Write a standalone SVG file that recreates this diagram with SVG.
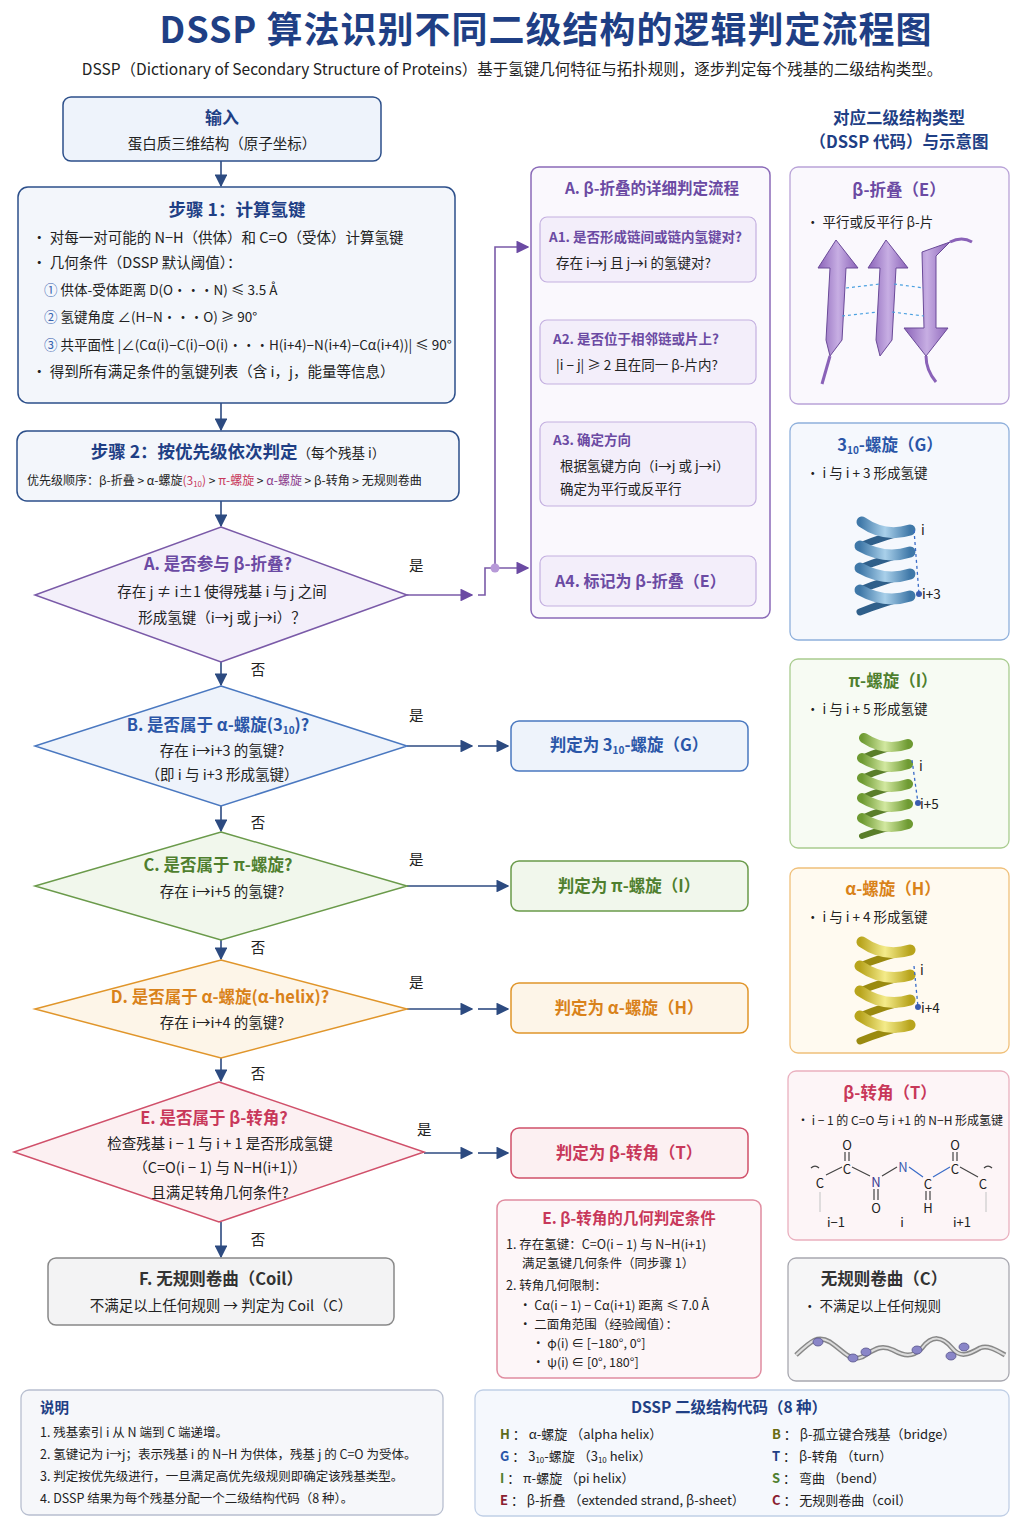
<svg xmlns="http://www.w3.org/2000/svg" width="1024" height="1536" viewBox="0 0 1024 1536">
<defs>
<style>
text{font-family:"Noto Sans CJK SC","Noto Sans",sans-serif;fill:#222;}
.t{font-size:14.5px;}
.s{font-size:13.5px;}
.b{font-weight:bold;}
.c{text-anchor:middle;}
.blue{fill:#1f3f85;}
.pur{fill:#6b4aa3;}
.grn{fill:#4f7f2e;}
.org{fill:#d9821a;}
.pnk{fill:#c8385a;}
.gry{fill:#333;}
.edge{stroke:#2c4a80;stroke-width:1.6;fill:none;}
.pedge{stroke:#7a5aa8;stroke-width:1.6;fill:none;}
</style>
<marker id="ar" viewBox="0 0 10 10" refX="9" refY="5" markerWidth="8" markerHeight="8" orient="auto"><path d="M0,0 L10,5 L0,10 z" fill="#2c4a80"/></marker>
<marker id="arp" viewBox="0 0 10 10" refX="9" refY="5" markerWidth="8" markerHeight="8" orient="auto"><path d="M0,0 L10,5 L0,10 z" fill="#6b4aa3"/></marker>
<linearGradient id="hb" x1="0" x2="1"><stop offset="0" stop-color="#3f78a8"/><stop offset="0.5" stop-color="#a9d0ea"/><stop offset="1" stop-color="#3f78a8"/></linearGradient>
<linearGradient id="hg" x1="0" x2="1"><stop offset="0" stop-color="#6e9a32"/><stop offset="0.5" stop-color="#d2e8a0"/><stop offset="1" stop-color="#6e9a32"/></linearGradient>
<linearGradient id="hy" x1="0" x2="1"><stop offset="0" stop-color="#b8a41c"/><stop offset="0.5" stop-color="#f4eb8a"/><stop offset="1" stop-color="#b8a41c"/></linearGradient>
<linearGradient id="bp" x1="0" x2="1"><stop offset="0" stop-color="#8a62b8"/><stop offset="0.5" stop-color="#c7aee3"/><stop offset="1" stop-color="#8a62b8"/></linearGradient>
</defs>
<rect width="1024" height="1536" fill="#ffffff"/>

<text x="546" y="43" class="c b blue" font-size="36" letter-spacing="1">DSSP 算法识别不同二级结构的逻辑判定流程图</text>
<text x="512" y="75" class="c" font-size="15.5">DSSP（Dictionary of Secondary Structure of Proteins）基于氢键几何特征与拓扑规则，逐步判定每个残基的二级结构类型。</text>

<g id="connectors">
<line x1="221" y1="161" x2="221" y2="186" class="edge" marker-end="url(#ar)"/>
<line x1="221" y1="403" x2="221" y2="430" class="edge" marker-end="url(#ar)"/>
<line x1="221" y1="501" x2="221" y2="526" class="edge" marker-end="url(#ar)"/>
<line x1="221" y1="662" x2="221" y2="685" class="edge" marker-end="url(#ar)"/>
<line x1="221" y1="806" x2="221" y2="831" class="edge" marker-end="url(#ar)"/>
<line x1="221" y1="940" x2="221" y2="959" class="edge" marker-end="url(#ar)"/>
<line x1="221" y1="1058" x2="221" y2="1081" class="edge" marker-end="url(#ar)"/>
<line x1="221" y1="1222" x2="221" y2="1257" class="edge" marker-end="url(#ar)"/>
<line x1="407" y1="595" x2="472" y2="595" class="pedge" marker-end="url(#arp)"/>
<path d="M478,595 L485,595 L485,568 L495,568" class="pedge"/>
<line x1="495" y1="568" x2="528" y2="568" class="pedge" marker-end="url(#arp)"/>
<path d="M495,568 L495,247 L528,247" class="pedge" marker-end="url(#arp)"/>
<circle cx="495" cy="568" r="4.5" fill="#b79ad8"/>
<line x1="407" y1="746" x2="472" y2="746" class="edge" marker-end="url(#ar)"/>
<line x1="478" y1="746" x2="508" y2="746" class="edge" marker-end="url(#ar)"/>
<line x1="407" y1="886" x2="508" y2="886" class="edge" marker-end="url(#ar)"/>
<line x1="407" y1="1009" x2="472" y2="1009" class="edge" marker-end="url(#ar)"/>
<line x1="478" y1="1009" x2="508" y2="1009" class="edge" marker-end="url(#ar)"/>
<line x1="424" y1="1153" x2="472" y2="1153" class="edge" marker-end="url(#ar)"/>
<line x1="478" y1="1153" x2="508" y2="1153" class="edge" marker-end="url(#ar)"/>
<line x1="647" y1="282" x2="647" y2="316" class="pedge" marker-end="url(#arp)"/>
<line x1="647" y1="384" x2="647" y2="418" class="pedge" marker-end="url(#arp)"/>
<line x1="647" y1="506" x2="647" y2="552" class="pedge" marker-end="url(#arp)"/>
<text x="409" y="571" class="t">是</text>
<text x="409" y="721" class="t">是</text>
<text x="409" y="865" class="t">是</text>
<text x="409" y="988" class="t">是</text>
<text x="417" y="1135" class="t">是</text>
<text x="258" y="675" class="t c">否</text>
<text x="258" y="828" class="t c">否</text>
<text x="258" y="953" class="t c">否</text>
<text x="258" y="1079" class="t c">否</text>
<text x="258" y="1245" class="t c">否</text>
<text x="665" y="301" class="s c">否</text>
<text x="665" y="403" class="s c">否</text>
</g>

<g id="input">
<rect x="63" y="97" width="318" height="64" rx="8" fill="#eef3fb" stroke="#2c4f8a" stroke-width="1.5"/>
<text x="222" y="124" class="c b blue" font-size="17">输入</text>
<text x="222" y="149" class="c t">蛋白质三维结构（原子坐标）</text>
</g>

<g id="step1">
<rect x="18" y="187" width="437" height="216" rx="10" fill="#f3f6fb" stroke="#2c4f8a" stroke-width="1.5"/>
<text x="237" y="216" class="c b blue" font-size="17.5">步骤 1：计算氢键</text>
<text x="32" y="243" class="t">•  对每一对可能的 N−H（供体）和 C=O（受体）计算氢键</text>
<text x="32" y="268" class="t">•  几何条件（DSSP 默认阈值）：</text>
<text x="44" y="295" class="s"><tspan fill="#3a64b0">①</tspan> 供体-受体距离 D(O···N) ≤ 3.5 Å</text>
<text x="44" y="322" class="s"><tspan fill="#3a64b0">②</tspan> 氢键角度 ∠(H−N···O) ≥ 90°</text>
<text x="44" y="350" class="s"><tspan fill="#3a64b0">③</tspan> 共平面性 |∠(Cα(i)−C(i)−O(i)···H(i+4)−N(i+4)−Cα(i+4))| ≤ 90°</text>
<text x="32" y="377" class="t">•  得到所有满足条件的氢键列表（含 i，j，能量等信息）</text>
</g>

<g id="step2">
<rect x="17" y="431" width="442" height="70" rx="10" fill="#f3f6fb" stroke="#2c4f8a" stroke-width="1.5"/>
<text x="238" y="458" class="c b blue" font-size="17.5">步骤 2：按优先级依次判定<tspan font-size="13.5" font-weight="normal" fill="#222">（每个残基 i）</tspan></text>
<text x="27" y="485" font-size="12">优先级顺序：β-折叠 &gt; α-螺旋<tspan fill="#c8385a">(3<tspan font-size="8" dy="2">10</tspan><tspan dy="-2">)</tspan></tspan> &gt; <tspan fill="#c8385a">π-螺旋</tspan> &gt; <tspan fill="#8a3a8a">α-螺旋</tspan> &gt; β-转角 &gt; 无规则卷曲</text>
</g>

<g id="decA">
<polygon points="221,527 407,595 221,662 35,595" fill="#f3effa" stroke="#7a5aa8" stroke-width="1.5"/>
<text x="218" y="570" class="c b pur" font-size="16.5">A. 是否参与 β-折叠?</text>
<text x="222" y="597" class="c t">存在 j ≠ i±1 使得残基 i 与 j 之间</text>
<text x="222" y="623" class="c t">形成氢键（i→j 或 j→i）？</text>
</g>

<g id="decB">
<polygon points="221,686 407,746 221,806 35,746" fill="#eef3fb" stroke="#4a78c0" stroke-width="1.5"/>
<text x="218" y="731" class="c b" font-size="16.5" style="fill:#2a56a8">B. 是否属于 α-螺旋(3<tspan font-size="10" dy="3">10</tspan><tspan dy="-3">)?</tspan></text>
<text x="222" y="756" class="c t">存在 i→i+3 的氢键?</text>
<text x="222" y="780" class="c t">（即 i 与 i+3 形成氢键）</text>
</g>

<g id="decC">
<polygon points="221,832 407,886 221,940 35,886" fill="#f1f7ec" stroke="#6a9a4a" stroke-width="1.5"/>
<text x="218" y="871" class="c b grn" font-size="16.5">C. 是否属于 π-螺旋?</text>
<text x="222" y="897" class="c t">存在 i→i+5 的氢键?</text>
</g>

<g id="decD">
<polygon points="221,960 407,1009 221,1058 35,1009" fill="#fdf5e8" stroke="#e0952a" stroke-width="1.5"/>
<text x="220" y="1003" class="c b org" font-size="16.5">D. 是否属于 α-螺旋(α-helix)?</text>
<text x="222" y="1028" class="c t">存在 i→i+4 的氢键?</text>
</g>

<g id="decE">
<polygon points="219,1082 424,1152 219,1222 14,1152" fill="#fcf0f2" stroke="#d0506a" stroke-width="1.5"/>
<text x="214" y="1124" class="c b pnk" font-size="16.5">E. 是否属于 β-转角?</text>
<text x="220" y="1149" class="c t">检查残基 i − 1 与 i + 1 是否形成氢键</text>
<text x="220" y="1173" class="c t">（C=O(i − 1) 与 N−H(i+1)）</text>
<text x="220" y="1198" class="c t">且满足转角几何条件?</text>
</g>

<g id="coilF">
<rect x="48" y="1258" width="346" height="67" rx="8" fill="#f3f3f4" stroke="#888" stroke-width="1.5"/>
<text x="221" y="1285" class="c b gry" font-size="16.5">F. 无规则卷曲（Coil）</text>
<text x="221" y="1311" class="c t">不满足以上任何规则 → 判定为 Coil（C）</text>
</g>

<g id="resG">
<rect x="511" y="721" width="237" height="50" rx="8" fill="#eef3fb" stroke="#4a78c0" stroke-width="1.5"/>
<text x="629" y="751" class="c b" font-size="16.5" style="fill:#2a56a8">判定为 3<tspan font-size="10" dy="3">10</tspan><tspan dy="-3">-螺旋（G）</tspan></text>
</g>
<g id="resI">
<rect x="511" y="861" width="237" height="50" rx="8" fill="#f1f7ec" stroke="#6a9a4a" stroke-width="1.5"/>
<text x="629" y="892" class="c b grn" font-size="16.5">判定为 π-螺旋（I）</text>
</g>
<g id="resH">
<rect x="511" y="983" width="237" height="50" rx="8" fill="#fdf5e8" stroke="#e0952a" stroke-width="1.5"/>
<text x="629" y="1014" class="c b org" font-size="16.5">判定为 α-螺旋（H）</text>
</g>
<g id="resT">
<rect x="511" y="1128" width="237" height="50" rx="8" fill="#fcf0f2" stroke="#d0506a" stroke-width="1.5"/>
<text x="629" y="1159" class="c b pnk" font-size="16.5">判定为 β-转角（T）</text>
</g>

<g id="panelA">
<rect x="531" y="167" width="239" height="451" rx="8" fill="#faf8fd" stroke="#8a6ab8" stroke-width="1.5"/>
<text x="652" y="194" class="c b pur" font-size="15.5">A. β-折叠的详细判定流程</text>
<rect x="540" y="217" width="216" height="65" rx="7" fill="#f3eefa" stroke="#c4b0e0" stroke-width="1.2"/>
<text x="549" y="242" class="s b pur">A1. 是否形成链间或链内氢键对?</text>
<text x="556" y="268" class="s">存在 i→j 且 j→i 的氢键对?</text>
<rect x="540" y="320" width="216" height="64" rx="7" fill="#f3eefa" stroke="#c4b0e0" stroke-width="1.2"/>
<text x="553" y="344" class="s b pur">A2. 是否位于相邻链或片上?</text>
<text x="556" y="370" class="s">|i − j| ≥ 2 且在同一 β-片内?</text>
<rect x="540" y="422" width="216" height="84" rx="7" fill="#f3eefa" stroke="#c4b0e0" stroke-width="1.2"/>
<text x="553" y="445" class="s b pur">A3. 确定方向</text>
<text x="560" y="471" class="s">根据氢键方向（i→j 或 j→i）</text>
<text x="560" y="494" class="s">确定为平行或反平行</text>
<rect x="540" y="556" width="216" height="50" rx="7" fill="#f3eefa" stroke="#c4b0e0" stroke-width="1.2"/>
<text x="555" y="587" class="b pur" font-size="16">A4. 标记为 β-折叠（E）</text>
</g>

<g id="rightHeader">
<text x="899" y="124" class="c b blue" font-size="16.5">对应二级结构类型</text>
<text x="899" y="148" class="c b blue" font-size="16.5">（DSSP 代码）与示意图</text>
</g>

<g id="boxE">
<rect x="790" y="167" width="219" height="237" rx="8" fill="#faf8fd" stroke="#b9a3d8" stroke-width="1.3"/>
<text x="899" y="196" class="c b pur" font-size="16.5">β-折叠（E）</text>
<text x="806" y="227" class="s">•  平行或反平行 β-片</text>
<g stroke="#6a4a98" stroke-width="1" fill="url(#bp)">
<polygon points="836,240 858,268 846,268 842,340 830,356 826,340 830,268 818,268"/>
<polygon points="886,240 908,268 896,268 892,340 880,356 876,340 880,268 868,268"/>
<polygon points="926,356 948,328 936,328 936,256 950,242 922,252 924,328 904,328"/>
</g>
<g stroke="#4aa0e0" stroke-width="1.2" stroke-dasharray="3,3">
<line x1="846" y1="288" x2="880" y2="284"/><line x1="842" y1="316" x2="878" y2="312"/>
<line x1="894" y1="284" x2="924" y2="288"/><line x1="892" y1="312" x2="924" y2="316"/>
</g>
<path d="M830,356 q-4,14 -8,28" stroke="#8a62b8" stroke-width="3" fill="none"/>
<path d="M926,356 q0,14 10,26" stroke="#8a62b8" stroke-width="3" fill="none"/>
<path d="M950,242 q12,-6 22,0" stroke="#8a62b8" stroke-width="3" fill="none"/>
</g>

<g id="boxG">
<rect x="790" y="423" width="219" height="217" rx="8" fill="#f5f8fd" stroke="#8fb0dc" stroke-width="1.3"/>
<text x="890" y="451" class="c b" font-size="16.5" style="fill:#2a56a8">3<tspan font-size="10" dy="3">10</tspan><tspan dy="-3">-螺旋（G）</tspan></text>
<text x="806" y="478" class="s">•  i 与 i + 3 形成氢键</text>
<g fill="none" stroke-linecap="round">
<path d="M910,530 Q885,536 860,546 M910,552 Q885,558 860,568 M910,574 Q885,580 860,590 M910,596 Q885,602 860,612" stroke="#2f5f8a" stroke-width="7"/>
<path d="M862,522 Q885,538 910,530 M860,546 Q885,560 910,552 M860,568 Q885,582 910,574 M860,590 Q885,604 910,596" stroke="url(#hb)" stroke-width="11"/>
</g>
<line x1="914" y1="530" x2="919" y2="594" stroke="#3a6cc8" stroke-width="1.3" stroke-dasharray="3,3"/>
<circle cx="919" cy="594" r="3" fill="#3a5cb0"/>
<text x="921" y="535" class="s">i</text><text x="922" y="599" class="s">i+3</text>
</g>

<g id="boxI">
<rect x="790" y="659" width="219" height="189" rx="8" fill="#f7fbf3" stroke="#a9cc8f" stroke-width="1.3"/>
<text x="893" y="687" class="c b grn" font-size="16.5">π-螺旋（I）</text>
<text x="806" y="714" class="s">•  i 与 i + 5 形成氢键</text>
<g fill="none" stroke-linecap="round">
<path d="M908,744 Q884,748 862,758 M908,764 Q884,768 862,778 M908,784 Q884,788 862,798 M908,804 Q884,808 862,818 M908,824 Q884,828 862,836" stroke="#5a7e2a" stroke-width="6"/>
<path d="M864,738 Q885,752 908,744 M862,758 Q885,772 908,764 M862,778 Q885,792 908,784 M862,798 Q885,812 908,804 M862,818 Q885,832 908,824" stroke="url(#hg)" stroke-width="10"/>
</g>
<line x1="912" y1="760" x2="918" y2="803" stroke="#3a6cc8" stroke-width="1.3" stroke-dasharray="3,3"/>
<circle cx="918" cy="803" r="3" fill="#3a5cb0"/>
<text x="919" y="771" class="s">i</text><text x="920" y="809" class="s">i+5</text>
</g>

<g id="boxH">
<rect x="790" y="868" width="219" height="185" rx="8" fill="#fffaf0" stroke="#f0c07a" stroke-width="1.3"/>
<text x="893" y="895" class="c b org" font-size="16.5">α-螺旋（H）</text>
<text x="806" y="922" class="s">•  i 与 i + 4 形成氢键</text>
<g fill="none" stroke-linecap="round">
<path d="M910,950 Q885,956 860,966 M910,975 Q885,981 860,991 M910,1000 Q885,1006 860,1016 M910,1025 Q885,1031 860,1041" stroke="#9a8a10" stroke-width="7"/>
<path d="M862,942 Q885,958 910,950 M860,966 Q885,983 910,975 M860,991 Q885,1008 910,1000 M860,1016 Q885,1033 910,1025" stroke="url(#hy)" stroke-width="11"/>
</g>
<line x1="914" y1="966" x2="918" y2="1007" stroke="#3a6cc8" stroke-width="1.3" stroke-dasharray="3,3"/>
<circle cx="918" cy="1007" r="3" fill="#3a5cb0"/>
<text x="920" y="975" class="s">i</text><text x="921" y="1013" class="s">i+4</text>
</g>

<g id="boxT">
<rect x="788" y="1071" width="221" height="169" rx="8" fill="#fdf5f7" stroke="#eab0bf" stroke-width="1.3"/>
<text x="890" y="1099" class="c b pnk" font-size="16.5">β-转角（T）</text>
<text x="797" y="1125" font-size="12">•  i − 1 的 C=O 与 i +1 的 N−H 形成氢键</text>
<g stroke="#444" stroke-width="1.2" fill="none">
<path d="M811,1168 q4,-4 8,0 M826,1175 L842,1167 M852,1167 L870,1176 M882,1176 L897,1167 M960,1167 L978,1177 M984,1168 q4,-4 8,0"/>
<path d="M909,1167 L923,1177 M933,1177 L950,1167" stroke="#3a6cc8"/>
<path d="M845,1152 V1161 M849,1152 V1161 M953,1152 V1161 M957,1152 V1161 M874,1189 V1200 M878,1189 V1200 M926,1191 V1200 M930,1191 V1200"/>
<path d="M820,1192 V1212 M986,1192 V1212" stroke="#ccc"/>
</g>
<g font-size="13">
<text x="847" y="1150" class="c">O</text><text x="847" y="1174" class="c">C</text>
<text x="820" y="1188" class="c">C</text><text x="876" y="1187" class="c" style="fill:#3a3a90">N</text>
<text x="876" y="1213" class="c">O</text><text x="903" y="1172" class="c" style="fill:#3a5cb0">N</text>
<text x="928" y="1189" class="c">C</text><text x="928" y="1213" class="c">H</text>
<text x="955" y="1150" class="c">O</text><text x="955" y="1174" class="c">C</text>
<text x="983" y="1189" class="c">C</text>
<text x="836" y="1227" class="c">i−1</text><text x="902" y="1227" class="c">i</text><text x="962" y="1227" class="c">i+1</text>
</g>
</g>

<g id="boxC">
<rect x="788" y="1258" width="221" height="123" rx="8" fill="#f6f6f7" stroke="#a8a8b0" stroke-width="1.3"/>
<text x="884" y="1285" class="c b gry" font-size="16.5">无规则卷曲（C）</text>
<text x="803" y="1311" class="s">•  不满足以上任何规则</text>
<path d="M796,1355 C812,1340 818,1335 830,1342 C845,1352 850,1362 862,1357 C874,1350 880,1344 893,1350 C904,1356 912,1358 922,1348 C932,1335 942,1336 952,1348 C960,1358 968,1355 980,1348 C988,1345 996,1350 1005,1355" stroke="#888" stroke-width="5" fill="none"/>
<path d="M796,1355 C812,1340 818,1335 830,1342 C845,1352 850,1362 862,1357 C874,1350 880,1344 893,1350 C904,1356 912,1358 922,1348 C932,1335 942,1336 952,1348 C960,1358 968,1355 980,1348 C988,1345 996,1350 1005,1355" stroke="#ddd" stroke-width="2" fill="none"/>
<g fill="#8a86c8" stroke="#55528a" stroke-width="0.8">
<ellipse cx="818" cy="1342" rx="5" ry="4"/><ellipse cx="853" cy="1358" rx="5" ry="4"/><ellipse cx="866" cy="1352" rx="5" ry="4"/>
<ellipse cx="917" cy="1350" rx="5" ry="4"/><ellipse cx="951" cy="1356" rx="5" ry="4"/><ellipse cx="964" cy="1347" rx="5" ry="4"/>
</g>
</g>

<g id="turnCond">
<rect x="497" y="1200" width="264" height="178" rx="8" fill="#fdf6f8" stroke="#e08ca0" stroke-width="1.5"/>
<text x="629" y="1224" class="c b pnk" font-size="15.5">E. β-转角的几何判定条件</text>
<text x="506" y="1249" font-size="12.5">1.  存在氢键：C=O(i − 1) 与 N−H(i+1)</text>
<text x="522" y="1268" font-size="12.5">满足氢键几何条件（同步骤 1）</text>
<text x="506" y="1290" font-size="12.5">2.  转角几何限制：</text>
<text x="519" y="1310" font-size="12.5">•  Cα(i − 1) − Cα(i+1) 距离 ≤ 7.0 Å</text>
<text x="519" y="1329" font-size="12.5">•  二面角范围（经验阈值）：</text>
<text x="532" y="1348" font-size="12.5">•  φ(i) ∈ [−180°, 0°]</text>
<text x="532" y="1367" font-size="12.5">•  ψ(i) ∈ [0°, 180°]</text>
</g>

<g id="notes">
<rect x="21" y="1390" width="422" height="125" rx="8" fill="#f6f7fa" stroke="#b8bfd0" stroke-width="1.3"/>
<text x="40" y="1413" class="b blue" font-size="14.5">说明</text>
<text x="40" y="1437" font-size="12.5">1.  残基索引 i 从 N 端到 C 端递增。</text>
<text x="40" y="1459" font-size="12.5">2.  氢键记为 i→j；表示残基 i 的 N−H 为供体，残基 j 的 C=O 为受体。</text>
<text x="40" y="1481" font-size="12.5">3.  判定按优先级进行，一旦满足高优先级规则即确定该残基类型。</text>
<text x="40" y="1503" font-size="12.5">4.  DSSP 结果为每个残基分配一个二级结构代码（8 种）。</text>
</g>

<g id="codes">
<rect x="475" y="1390" width="534" height="126" rx="8" fill="#f5f8fd" stroke="#c0cfe6" stroke-width="1.3"/>
<text x="729" y="1413" class="c b blue" font-size="15.5">DSSP 二级结构代码（8 种）</text>
<g font-size="13">
<text x="500" y="1439"><tspan class="b" style="fill:#5a6a1a">H</tspan>  ：  α-螺旋 （alpha helix）</text>
<text x="500" y="1461"><tspan class="b" style="fill:#2a56a8">G</tspan>  ：  3<tspan font-size="8" dy="2">10</tspan><tspan dy="-2">-螺旋 （3</tspan><tspan font-size="8" dy="2">10</tspan><tspan dy="-2"> helix）</tspan></text>
<text x="500" y="1483"><tspan class="b" style="fill:#4f7f2e">I</tspan>   ：  π-螺旋 （pi helix）</text>
<text x="500" y="1505"><tspan class="b" style="fill:#8a2030">E</tspan>  ：  β-折叠 （extended strand, β-sheet）</text>
<text x="772" y="1439"><tspan class="b" style="fill:#6a6a10">B</tspan>  ：  β-孤立键合残基（bridge）</text>
<text x="772" y="1461"><tspan class="b" style="fill:#1f3f85">T</tspan>  ：  β-转角 （turn）</text>
<text x="772" y="1483"><tspan class="b" style="fill:#4f7f2e">S</tspan>  ：  弯曲 （bend）</text>
<text x="772" y="1505"><tspan class="b" style="fill:#8a2030">C</tspan>  ：  无规则卷曲（coil）</text>
</g>
</g>
</svg>
